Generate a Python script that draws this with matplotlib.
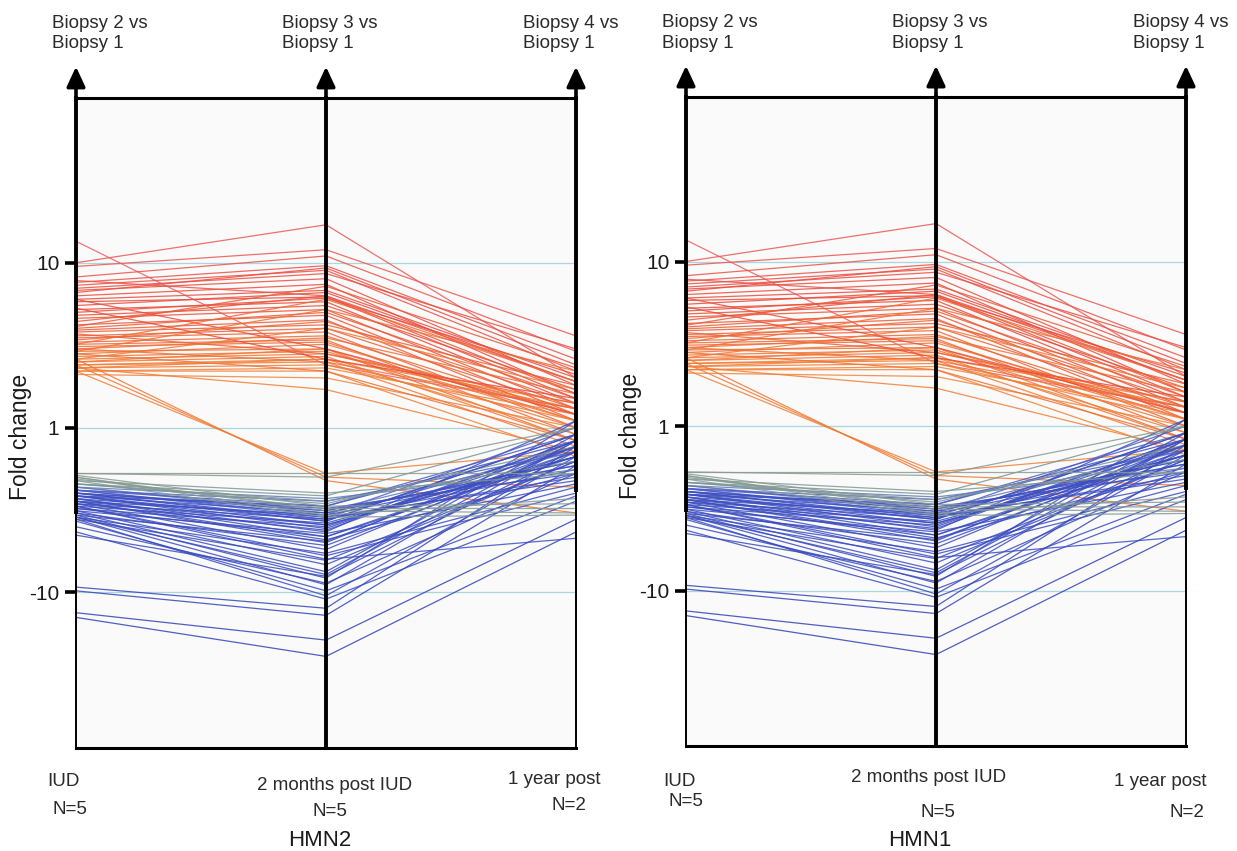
import numpy as np
import matplotlib
matplotlib.use("Agg")
import matplotlib.pyplot as plt
from matplotlib.colors import LinearSegmentedColormap, Normalize

plt.rcParams['font.family'] = ['Liberation Sans', 'DejaVu Sans']

# signed fold changes (values below 1 are written as -1/x, like the axis)
up_b2 = [10.0, 13.5, 9.5, 8.2, 7.6, 7.3, 7.0, 6.8, 6.6, 6.3, 6.0, 5.8, 5.5, 5.2,
         5.0, 4.8, 4.6, 4.4, 4.2, 4.0, 3.9, 3.8, 3.6, 3.5, 3.4, 3.3, 3.2, 3.1,
         3.0, 2.9, 2.8, 2.7, 2.6, 2.5, 2.5, 2.4, 2.4, 2.3, 2.3, 2.2, 2.2, 2.1,
         2.3, 2.4, 2.2, 2.6, 5.3, 6.0, 7.8, 3.7, 2.8, 3.0, 2.6, 2.9, 3.2, 4.1]
up_b3 = [17.0, 2.4, 12.0, 11.0, 9.6, 9.0, 8.6, 8.0, 9.3, 7.4, 6.8, 6.2, 6.6, 5.8,
         6.1, 5.5, 5.2, 6.3, 4.8, 5.0, 4.5, 4.2, 4.0, 3.8, 4.4, 3.6, 3.4, 3.3,
         3.5, 3.0, 3.2, 2.9, 2.8, 2.7, 3.0, 2.6, 2.5, 2.4, 2.6, 2.3, 2.2, 2.0,
         1.7, -2.0, -1.9, -2.1, 2.6, 3.0, 6.3, 2.8, 2.2, 2.5, 4.0, 5.2, 6.0, 7.2]
up_b4 = [2.0, 1.3, 3.6, 2.9, 2.6, 2.2, 3.0, 1.8, 2.4, 1.6, 2.0, 1.5, 1.9, 1.4,
         2.1, 1.7, 1.3, 1.6, 1.2, 1.5, 1.1, 1.8, 1.3, 1.0, 1.4, 1.2, -1.1, 1.1,
         1.6, -1.2, 1.2, 1.0, 1.3, -1.2, 1.1, 1.4, -1.3, 1.1, -1.1, 1.2, -1.5, 1.0,
         -1.4, -2.3, -1.4, -3.3, 1.5, 1.2, 1.9, 1.4, -1.2, 1.3, 1.7, 2.2, 1.9, 2.3]

down_b2 = [-9.3, -9.8, -13.3, -14.2, -3.6, -3.5, -3.4, -3.3, -3.2, -3.0, -2.9, -2.8,
           -2.7, -2.7, -2.6, -2.6, -2.5, -2.5, -2.4, -2.4, -2.3, -2.3, -2.5, -2.6,
           -2.8, -2.9, -3.0, -3.1, -3.2, -2.4, -2.3, -2.4, -2.6, -2.7, -2.2, -2.8,
           -3.3, -3.5, -3.6, -3.0, -4.0, -4.3, -3.7, -2.9, -3.1, -2.2, -2.5, -2.6,
           -3.4, -2.8, -2.1, -2.2, -3.5, -4.5,
           -1.9, -1.95, -2.0, -2.0, -2.05, -2.1, -1.9]
down_b3 = [-12.5, -13.8, -19.5, -24.5, -10.5, -9.0, -8.2, -7.5, -6.8, -6.0, -5.5, -5.0,
           -4.6, -4.3, -4.1, -3.9, -3.7, -3.6, -3.5, -3.4, -3.3, -3.2, -3.1, -3.0,
           -3.4, -3.6, -3.8, -4.0, -4.4, -2.8, -2.7, -3.0, -3.3, -3.5, -2.6, -4.8,
           -5.2, -5.8, -6.4, -6.3, -8.8, -11.0, -9.8, -4.2, -4.6, -2.9, -3.2, -3.7,
           -4.9, -3.9, -2.5, -2.8, -7.8, -8.0,
           -2.0, -3.0, -3.2, -3.4, -3.1, -3.5, -1.9]
down_b4 = [-1.3, -1.7, -3.6, -4.3, -1.5, -1.2, 1.1, -1.1, -1.6, -2.5, -1.3, -1.2,
           -1.4, 1.1, -1.2, -1.5, -1.1, -1.8, -1.3, 1.0, -1.6, -1.4, -1.9, -1.2,
           -1.7, -2.0, -1.5, -1.3, -2.2, -1.4, -1.8, -1.1, -1.6, -2.1, 1.0, -1.9,
           -1.4, -2.3, -1.6, -4.7, -1.9, -2.8, -2.6, -1.2, -1.5, -1.3, -1.7, -1.1,
           -1.3, -1.5, -1.9, -1.6, -1.2, -1.4,
           1.0, -2.9, -3.3, -2.7, -3.1, -3.4, -1.9]

panels = ["HMN2", "HMN1"]
columns = ["Biopsy 2 vs\nBiopsy 1", "Biopsy 3 vs\nBiopsy 1", "Biopsy 4 vs\nBiopsy 1"]
y_ticks = [10, 1, -10]
y_ticklabels = ["10", "1", "-10"]


def to_log(v):
    v = np.asarray(v, dtype=float)
    return np.sign(v) * np.log10(np.abs(v))


# colour each profile by its first value, like the original software
cmap = LinearSegmentedColormap.from_list("fc", [
    (0.00, "#2f3fb4"),
    (0.35, "#3d4fc2"),
    (0.355, "#5566c8"),
    (0.37, "#7d9a95"),
    (0.40, "#8f9a90"),
    (0.58, "#f3923f"),
    (0.65, "#f27a33"),
    (0.78, "#ea4a38"),
    (1.00, "#ee6670"),
])
norm = Normalize(vmin=-1.3, vmax=1.3)

ymin, ymax = -1.945, 2.0

fig = plt.figure(figsize=(12.37, 8.51), dpi=100)
axes_rects = [[76 / 1237, 1 - 748 / 851, 500 / 1237, 650 / 851],
              [686 / 1237, 1 - 746 / 851, 500 / 1237, 649 / 851]]

# text positions in axes fractions for each panel
bottom_text = {
    "HMN2": [("IUD", -0.058, -0.052, "left"), ("N=5", -0.048, -0.095, "left"),
             ("2 months post IUD", 0.518, -0.057, "center"), ("N=5", 0.508, -0.097, "center"),
             ("1 year post", 0.956, -0.049, "center"), ("N=2", 0.986, -0.088, "center")],
    "HMN1": [("IUD", -0.046, -0.055, "left"), ("N=5", -0.036, -0.086, "left"),
             ("2 months post IUD", 0.486, -0.049, "center"), ("N=5", 0.504, -0.102, "center"),
             ("1 year post", 0.948, -0.055, "center"), ("N=2", 1.002, -0.103, "center")],
}
title_pos = {"HMN2": (0.488, -0.142), "HMN1": (0.468, -0.145)}
top_x = [-0.048, 0.412, 0.894]

for rect, name in zip(axes_rects, panels):
    ax = fig.add_axes(rect)
    ax.set_facecolor("#fafafa")
    ax.set_xlim(0, 2)
    ax.set_ylim(ymin, ymax)
    for s in ax.spines.values():
        s.set_visible(False)

    # grid lines
    for t in to_log(y_ticks):
        ax.axhline(t, color="#a9d6df", lw=0.9, zorder=1)

    x = [0, 1, 2]
    for a, b, c in zip(up_b2, up_b3, up_b4):
        ys = to_log([a, b, c])
        ax.plot(x, ys, color=cmap(norm(ys[0])), lw=0.9, alpha=0.85, zorder=2)
    for a, b, c in zip(down_b2, down_b3, down_b4):
        ys = to_log([a, b, c])
        ax.plot(x, ys, color=cmap(norm(ys[0])), lw=0.9, alpha=0.85, zorder=3)

    # frame: top and bottom bars
    ax.plot([0, 2], [ymax, ymax], color="black", lw=2.2, clip_on=False, zorder=5)
    ax.plot([0, 2], [ymin, ymin], color="black", lw=2.2, clip_on=False, zorder=5)
    # vertical axes (thick upper part, thin lower part on the outer ones)
    ax.plot([1, 1], [ymin, ymax], color="black", lw=2.8, clip_on=False, zorder=5)
    ax.plot([0, 0], [-0.51, ymax], color="black", lw=2.8, clip_on=False, zorder=5)
    ax.plot([0, 0], [ymin, -0.51], color="black", lw=1.4, clip_on=False, zorder=5)
    ax.plot([2, 2], [-0.377, ymax], color="black", lw=2.8, clip_on=False, zorder=5)
    ax.plot([2, 2], [ymin, -0.377], color="black", lw=1.4, clip_on=False, zorder=5)
    for xi in x:
        ax.annotate("", xy=(xi, 2.19), xytext=(xi, ymax - 0.01),
                    arrowprops=dict(arrowstyle="-|>,head_length=0.6,head_width=0.28",
                                    lw=2.6, color="black", shrinkA=0, shrinkB=0,
                                    mutation_scale=20),
                    annotation_clip=False, zorder=6)

    ax.set_xticks([])
    ax.set_yticks(to_log(y_ticks))
    ax.set_yticklabels(y_ticklabels, fontsize=15, color="#1a1a1a")
    ax.tick_params(axis="y", length=8, width=2.6, pad=4, color="black")

    ax.text(-0.11, 0.478, "Fold change", rotation=90, fontsize=16.5,
            ha="center", va="center", transform=ax.transAxes, color="#1a1a1a")

    for xt, lab in zip(top_x, columns):
        ax.text(xt, 1.128, lab, fontsize=13.5, ha="left", va="top",
                linespacing=1.28, transform=ax.transAxes, color="#2a2a2a")

    for lab, xt, yt, ha in bottom_text[name]:
        ax.text(xt, yt, lab, fontsize=13.5, ha=ha, va="center",
                transform=ax.transAxes, color="#2a2a2a")
    tx, ty = title_pos[name]
    ax.text(tx, ty, name, fontsize=16, ha="center", va="center",
            transform=ax.transAxes, color="#1a1a1a")

fig.savefig("out.png", dpi=100, facecolor="white")
